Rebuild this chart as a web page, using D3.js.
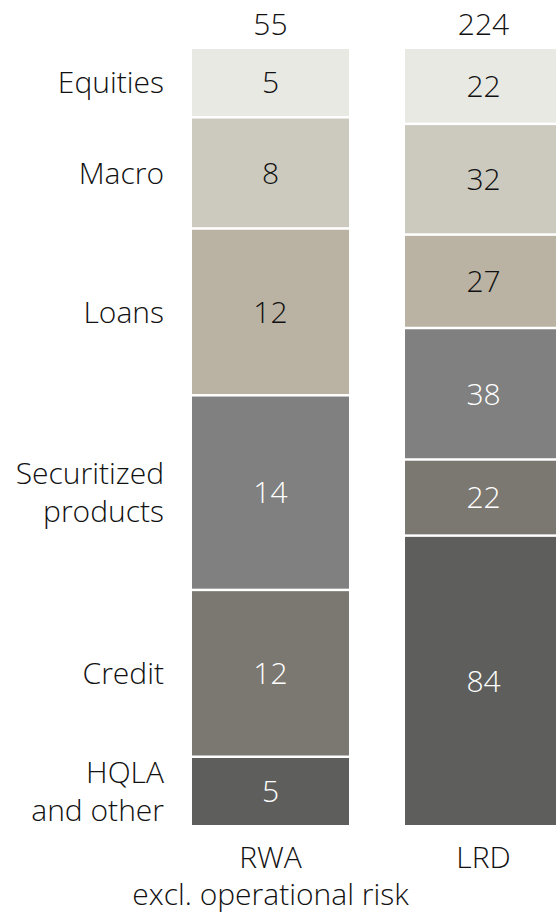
<!DOCTYPE html>
<html>
<head>
<meta charset="utf-8">
<script src="https://cdn.jsdelivr.net/npm/d3@7"></script>
<style>
  html, body { margin: 0; padding: 0; background: #fff; }
  svg { display: block; }
  text { font-family: "Open Sans", "Noto Sans", sans-serif; font-weight: 300; fill: #111; }
</style>
</head>
<body>
<svg id="chart" width="556" height="913"></svg>
<script>
// Business divisions, stacked from bottom to top
const categories = ["HQLA and other", "Credit", "Securitized products", "Loans", "Macro", "Equities"];
const measures = ["RWA", "LRD"];
const rwaValues = [5, 12, 14, 12, 8, 5];
const lrdValues = [84, 22, 38, 27, 32, 22];
const totals = [55, 224];
const colors = ["#5e5f5d", "#7b7871", "#808080", "#bab3a3", "#cccabe", "#e9e9e4"];
const labelInk = ["#ffffff", "#ffffff", "#ffffff", "#111111", "#111111", "#111111"];

const svg = d3.select("#chart");
const fontSize = 30;

const rows = measures.map((m, i) => {
  const row = { measure: m };
  const vals = i === 0 ? rwaValues : lrdValues;
  categories.forEach((c, j) => { row[c] = vals[j]; });
  return row;
});

// each column is shown as its full composition
const series = d3.stack()
  .keys(categories)
  .offset(d3.stackOffsetExpand)(rows);

const x = d3.scaleBand()
  .domain(measures)
  .range([192, 562])
  .paddingInner(0.263)
  .paddingOuter(0);

const gap = 2.5;
const y = d3.scaleLinear().domain([0, 1]).range([825 + gap / 2, 49 - gap / 2]);

const layer = svg.append("g").selectAll("g")
  .data(series)
  .join("g")
  .attr("fill", (d, i) => colors[i]);

layer.selectAll("rect")
  .data(d => d.map(p => ({ p, key: d.key, idx: d.index })))
  .join("rect")
  .attr("x", d => x(d.p.data.measure))
  .attr("width", x.bandwidth())
  .attr("y", d => y(d.p[1]) + gap / 2)
  .attr("height", d => y(d.p[0]) - y(d.p[1]) - gap);

// values inside segments
layer.selectAll("text")
  .data(d => d.map(p => ({ p, key: d.key, idx: d.index })))
  .join("text")
  .attr("x", d => x(d.p.data.measure) + x.bandwidth() / 2)
  .attr("y", d => (y(d.p[0]) + y(d.p[1])) / 2)
  .attr("dy", "0.36em")
  .attr("text-anchor", "middle")
  .attr("font-size", fontSize)
  .style("fill", d => labelInk[d.idx])
  .text(d => d.p.data[d.key]);

// totals above each bar
svg.append("g").selectAll("text")
  .data(measures)
  .join("text")
  .attr("x", d => x(d) + x.bandwidth() / 2)
  .attr("y", 35)
  .attr("text-anchor", "middle")
  .attr("font-size", fontSize)
  .text((d, i) => totals[i]);

// category names at left, aligned to the RWA segments
const rwaSeries = series.map(s => ({ key: s.key, p: s[0] }));
const lineH = 38;
const catText = svg.append("g").selectAll("text")
  .data(rwaSeries)
  .join("text")
  .attr("text-anchor", "end")
  .attr("font-size", fontSize)
  .attr("transform", d => `translate(164,${(y(d.p[0]) + y(d.p[1])) / 2})`);

const splitLabel = k => k === "Securitized products" ? ["Securitized", "products"]
  : k === "HQLA and other" ? ["HQLA", "and other"] : [k];

catText.each(function (d) {
  const lines = splitLabel(d.key);
  const t = d3.select(this);
  lines.forEach((ln, i) => {
    t.append("tspan")
      .attr("x", 0)
      .attr("y", (i - (lines.length - 1) / 2) * lineH)
      .attr("dy", "0.36em")
      .text(ln);
  });
});

// axis labels under the bars
const xAxis = svg.append("g")
  .attr("transform", "translate(0,867.5)")
  .call(d3.axisBottom(x).tickSize(0).tickPadding(0));
xAxis.select(".domain").remove();
xAxis.selectAll("text")
  .attr("font-size", fontSize)
  .attr("font-family", null)
  .attr("dy", 0)
  .attr("y", 0)
  .style("fill", "#111");

// second line under the RWA label
xAxis.selectAll(".tick text")
  .filter(d => d === "RWA")
  .append("tspan")
  .attr("x", 0)
  .attr("dy", 37)
  .text("excl. operational risk");
</script>
</body>
</html>
